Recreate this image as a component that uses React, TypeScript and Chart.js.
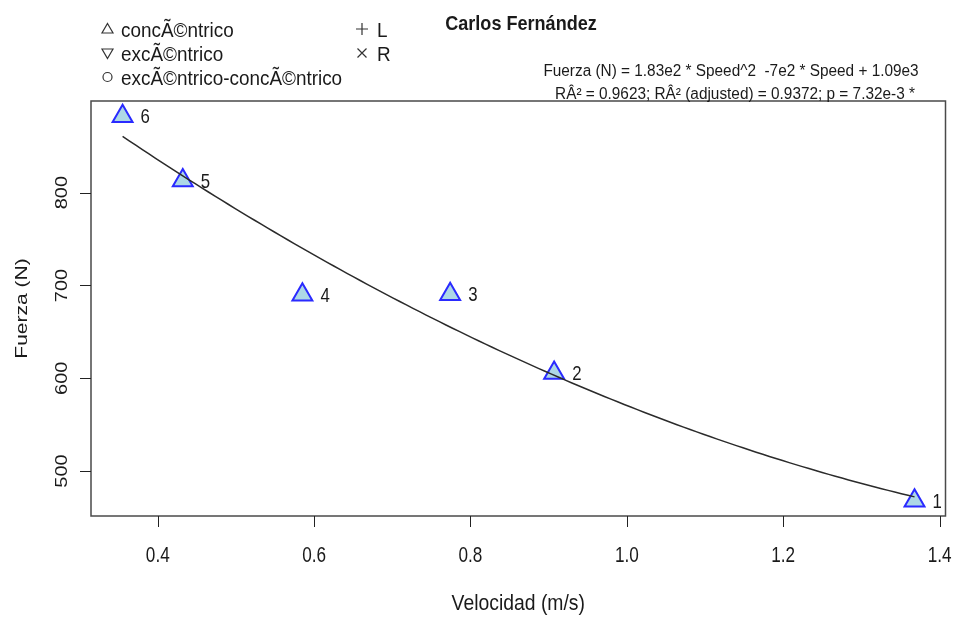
import React, { useEffect, useRef } from "react";
import { Chart, registerables } from "chart.js";

Chart.register(...registerables);

// ---- data ----
const velocidad = [1.368, 0.907, 0.774, 0.585, 0.432, 0.355];
const fuerza = [468, 605.5, 690.5, 690, 813, 882.3];
const pointLabels = ["1", "2", "3", "4", "5", "6"];
const xTicks = [0.4, 0.6, 0.8, 1.0, 1.2, 1.4];
const xTickLabels = ["0.4", "0.6", "0.8", "1.0", "1.2", "1.4"];
const yTicks = [500, 600, 700, 800];
const yTickLabels = ["500", "600", "700", "800"];
const legendLabels = ["concÃ©ntrico", "excÃ©ntrico", "excÃ©ntrico-concÃ©ntrico"];
const sideLegendLabels = ["L", "R"];
const titleText = "Carlos Fernández";
const equationLines = [
  "Fuerza (N) = 1.83e2 * Speed^2  -7e2 * Speed + 1.09e3",
  "RÂ² = 0.9623; RÂ² (adjusted) = 0.9372; p = 7.32e-3 *",
];
const xAxisTitle = "Velocidad (m/s)";
const yAxisTitle = "Fuerza (N)";
const xRange = [0.3146, 1.4076];
const yRange = [451.5, 898.8];

// quadratic least-squares fit of the points (the regression curve of the chart)
function quadFit(xs: number[], ys: number[]) {
  const S = (f: (i: number) => number) => xs.reduce((a, _, i) => a + f(i), 0);
  const n = xs.length;
  const s1 = S((i) => xs[i]), s2 = S((i) => xs[i] ** 2), s3 = S((i) => xs[i] ** 3), s4 = S((i) => xs[i] ** 4);
  const t0 = S((i) => ys[i]), t1 = S((i) => xs[i] * ys[i]), t2 = S((i) => xs[i] ** 2 * ys[i]);
  const M = [
    [n, s1, s2, t0],
    [s1, s2, s3, t1],
    [s2, s3, s4, t2],
  ];
  for (let c = 0; c < 3; c++) {
    for (let r = c + 1; r < 3; r++) {
      const f = M[r][c] / M[c][c];
      for (let k = c; k < 4; k++) M[r][k] -= f * M[c][k];
    }
  }
  const b = [0, 0, 0];
  for (let r = 2; r >= 0; r--) {
    let s = M[r][3];
    for (let k = r + 1; k < 3; k++) s -= M[r][k] * b[k];
    b[r] = s / M[r][r];
  }
  return b;
}

const FONT = '"Liberation Sans", Arial, sans-serif';

function txt(
  ctx: CanvasRenderingContext2D,
  s: string,
  x: number,
  y: number,
  font: string,
  align: CanvasTextAlign,
  baseline: CanvasTextBaseline,
  sx: number,
  rot = 0
) {
  ctx.save();
  ctx.translate(x, y);
  ctx.scale(sx, 1);
  ctx.rotate(rot);
  ctx.font = font;
  ctx.fillStyle = "#1a1a1a";
  ctx.textAlign = align;
  ctx.textBaseline = baseline;
  ctx.fillText(s, 0, 0);
  ctx.restore();
}

const decorPlugin = {
  id: "decor",
  beforeDraw(chart: any) {
    const ctx = chart.ctx;
    ctx.save();
    ctx.fillStyle = "#ffffff";
    ctx.fillRect(0, 0, chart.width, chart.height);
    ctx.restore();
  },
  afterDraw(chart: any) {
    const ctx: CanvasRenderingContext2D = chart.ctx;
    const { left, right, top, bottom } = chart.chartArea;
    const xs = chart.scales.x;
    const ys = chart.scales.y;

    // frame
    ctx.save();
    ctx.strokeStyle = "#4a4a4a";
    ctx.lineWidth = 1.5;
    ctx.strokeRect(left, top, right - left, bottom - top);

    // ticks
    ctx.strokeStyle = "#222";
    ctx.lineWidth = 1;
    ctx.beginPath();
    xTicks.forEach((v) => {
      const px = Math.round(xs.getPixelForValue(v)) + 0.5;
      ctx.moveTo(px, bottom);
      ctx.lineTo(px, bottom + 11);
    });
    yTicks.forEach((v) => {
      const py = Math.round(ys.getPixelForValue(v)) + 0.5;
      ctx.moveTo(left, py);
      ctx.lineTo(left - 11, py);
    });
    ctx.stroke();
    ctx.restore();

    xTicks.forEach((v, i) => {
      txt(ctx, xTickLabels[i], xs.getPixelForValue(v), 562, `22px ${FONT}`, "center", "alphabetic", 0.78);
    });
    yTicks.forEach((v, i) => {
      txt(ctx, yTickLabels[i], 67, ys.getPixelForValue(v), `20px ${FONT}`, "center", "alphabetic", 0.8, -Math.PI / 2);
    });

    // axis titles
    txt(ctx, xAxisTitle, (left + right) / 2, 610, `22px ${FONT}`, "center", "alphabetic", 0.88);
    txt(ctx, yAxisTitle, 27, (top + bottom) / 2, `21px ${FONT}`, "center", "alphabetic", 0.8, -Math.PI / 2);

    // title
    txt(ctx, titleText, 521, 30, `bold 21px ${FONT}`, "center", "alphabetic", 0.86);

    // equation
    txt(ctx, equationLines[0], 731, 76, `16px ${FONT}`, "center", "alphabetic", 0.96);
    txt(ctx, equationLines[1], 735, 99, `16px ${FONT}`, "center", "alphabetic", 0.96);

    // legend
    const rowsY = [29, 53, 77];
    const symX = 107.5;
    ctx.save();
    ctx.strokeStyle = "#333";
    ctx.lineWidth = 1.2;
    // triangle up
    ctx.beginPath();
    ctx.moveTo(symX, rowsY[0] - 5.5);
    ctx.lineTo(symX + 5.5, rowsY[0] + 4);
    ctx.lineTo(symX - 5.5, rowsY[0] + 4);
    ctx.closePath();
    ctx.stroke();
    // triangle down
    ctx.beginPath();
    ctx.moveTo(symX, rowsY[1] + 5.5);
    ctx.lineTo(symX + 5.5, rowsY[1] - 4);
    ctx.lineTo(symX - 5.5, rowsY[1] - 4);
    ctx.closePath();
    ctx.stroke();
    // circle
    ctx.beginPath();
    ctx.arc(symX, rowsY[2], 4.5, 0, Math.PI * 2);
    ctx.stroke();
    // plus and cross
    const px = 362;
    ctx.beginPath();
    ctx.moveTo(px - 6, rowsY[0]);
    ctx.lineTo(px + 6, rowsY[0]);
    ctx.moveTo(px, rowsY[0] - 6);
    ctx.lineTo(px, rowsY[0] + 6);
    ctx.moveTo(px - 4.5, rowsY[1] - 4.5);
    ctx.lineTo(px + 4.5, rowsY[1] + 4.5);
    ctx.moveTo(px + 4.5, rowsY[1] - 4.5);
    ctx.lineTo(px - 4.5, rowsY[1] + 4.5);
    ctx.stroke();
    ctx.restore();
    const baseY = [37, 61, 85];
    legendLabels.forEach((s, i) => {
      txt(ctx, s, 121, baseY[i], `21px ${FONT}`, "left", "alphabetic", 0.9);
    });
    sideLegendLabels.forEach((s, i) => {
      txt(ctx, s, 377, baseY[i], `21px ${FONT}`, "left", "alphabetic", 0.9);
    });

    // point labels
    const meta = chart.getDatasetMeta(1);
    meta.data.forEach((el: any, i: number) => {
      txt(ctx, pointLabels[i], el.x + 18, el.y + 7, `21px ${FONT}`, "left", "alphabetic", 0.8);
    });
  },
};

export default function App() {
  const ref = useRef<HTMLCanvasElement | null>(null);
  useEffect(() => {
    if (!ref.current) return;
    const coef = quadFit(velocidad, fuerza);
    const lo = Math.min(...velocidad);
    const hi = Math.max(...velocidad);
    const curve: { x: number; y: number }[] = [];
    const N = 120;
    for (let i = 0; i <= N; i++) {
      const x = lo + ((hi - lo) * i) / N;
      curve.push({ x, y: coef[0] + coef[1] * x + coef[2] * x * x });
    }
    const chart = new Chart(ref.current, {
      type: "scatter",
      data: {
        datasets: [
          {
            data: curve,
            showLine: true,
            pointRadius: 0,
            borderColor: "#2b2b2b",
            borderWidth: 1.5,
            tension: 0,
          } as any,
          {
            data: velocidad.map((x, i) => ({ x, y: fuerza[i] })),
            pointStyle: "triangle",
            pointRadius: 11.5,
            backgroundColor: "#add8e6",
            borderColor: "#2a2aff",
            borderWidth: 2,
          } as any,
        ],
      },
      options: {
        responsive: false,
        animation: false,
        devicePixelRatio: 1,
        layout: { padding: { left: 91, right: 10, top: 101, bottom: 101 } },
        scales: {
          x: { type: "linear", min: xRange[0], max: xRange[1], display: false },
          y: { type: "linear", min: yRange[0], max: yRange[1], display: false },
        },
        plugins: { legend: { display: false }, tooltip: { enabled: false } },
      },
      plugins: [decorPlugin],
    });
    return () => chart.destroy();
  }, []);
  return (
    <canvas
      ref={ref}
      width={959}
      height={617}
      style={{ position: "absolute", left: 0, top: 0, width: 959, height: 617 }}
    />
  );
}
